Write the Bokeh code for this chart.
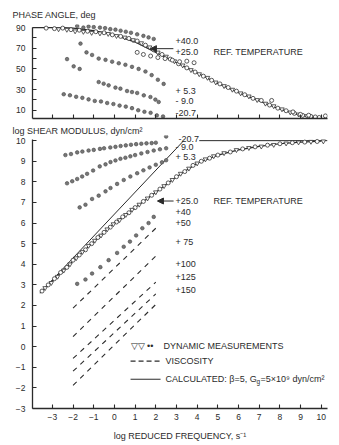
from bokeh.plotting import figure
from bokeh.layouts import column
from bokeh.models import Label, Arrow, NormalHead, FixedTicker, Range1d, Title
from bokeh.embed import file_html
from bokeh.resources import INLINE

FONT = "Liberation Sans"
INK = "#2b2b2b"
DOT = "#777777"

# ---------------- data ----------------
x_ticks = [-3, -2, -1, 0, 1, 2, 3, 4, 5, 6, 7, 8, 9, 10]
phase_ticks = [10, 20, 30, 40, 50, 60, 70, 80, 90]
phase_labels = {20: "", 40: "", 60: "", 80: ""}
mod_ticks = [-3, -2, -1, 0, 1, 2, 3, 4, 5, 6, 7, 8, 9, 10]

# top panel: phase angle (deg)
calc_phase_x = [-3.96, -2.5, -2.0, -1.0, 0.0, 1.0, 2.0, 3.0, 4.0, 5.0, 6.0, 7.0, 8.0, 9.0, 10.0]
calc_phase_y = [90, 90, 89.5, 87, 83, 76, 66, 56, 46, 36, 27, 19, 11, 5, 2]

ref_phase_circ_x = [-3.3, -2.9, -2.5, -2.1, -1.7, -1.3, -0.9, -0.5, -0.1, 0.3, 0.7, 1.1, 1.5, 1.9, 2.3,
                    2.7, 3.1, 3.5, 3.9, 4.3, 4.7, 5.1, 5.5, 5.9, 6.3, 6.7, 7.1, 7.5, 7.9, 8.3, 8.7,
                    9.1, 9.5, 9.9, 10.2]
ref_phase_circ_y = [89.5, 89, 89.5, 88, 87.5, 86.5, 86, 85, 83, 81.5, 79.5, 77, 73, 68.5, 64,
                    59.5, 55, 51, 47, 43, 39, 35.5, 32, 28.5, 25, 21.5, 19.5, 15, 12, 9.5, 7,
                    5, 4, 3, 4.5]
ref_phase_tri_x = [-2.7, -2.3, -1.9, -1.5, -1.1, -0.7, -0.3, 0.1, 0.5, 0.9, 1.3, 1.7, 2.1, 2.5, 2.9,
                   3.3, 3.7, 4.1, 4.5, 4.9, 5.3, 5.7, 6.1, 6.5, 6.9, 7.3, 7.7, 8.1, 8.5, 8.9, 9.3, 9.7]
ref_phase_tri_y = [88.5, 88, 86.5, 86, 85, 84.5, 84, 82, 80.5, 78, 75, 71, 66, 62, 57.5,
                   53.5, 49, 45, 41.5, 37, 33.5, 30, 26.5, 23.5, 20, 16.5, 14, 11, 8, 6, 4.5, 2.5]
ref_phase_extra_x = [1.1, 1.4, 1.75, 2.1, 2.45, 2.8, 3.15, 3.5, 3.85, 7.6, 8.63, 8.99, 9.39, 9.71]
ref_phase_extra_y = [66, 64, 62.5, 61, 60, 58.5, 57, 57.5, 56, 19.5, 8.4, 6, 5.2, 3.5]

p40_phase_x = [-1.8, -1.5, -1.25, -1.0, -0.7, -0.45, -0.2, 0.05, 0.3, 0.55, 0.8, 1.1, 1.4, 1.65, 1.9]
p40_phase_y = [91.5, 90, 91, 90.5, 90, 89.5, 88.5, 88, 87, 86, 85, 83.5, 82, 80.5, 79]

p53_phase_x = [-1.64, -1.35, -1.08, -0.76, -0.43, -0.11, 0.21, 0.53, 0.85, 1.17, 1.5, 1.8, 2.1, 2.38]
p53_phase_y = [74.5, 66, 63.5, 60, 58.8, 57, 55.5, 54, 52, 50, 47.5, 44, 39.5, 35.5]

m9_phase_x = [-2.29, -1.97, -1.68, -0.76, -0.52, -0.28, 0.05, 0.29, 0.61, 0.85, 1.1, 1.42, 1.74, 1.98, 2.14]
m9_phase_y = [59.5, 52.5, 50, 37.3, 35.7, 34.1, 31.9, 30.9, 28.6, 27.6, 26.7, 24.4, 22.8, 20.3, 18]

m207_phase_x = [-2.45, -2.15, -1.85, -1.55, -1.25, -0.95, -0.65, -0.35, -0.05, 0.25, 0.55, 0.85,
                1.15, 1.45, 1.75, 2.05, 2.35]
m207_phase_y = [25.5, 24.5, 23, 22, 20.5, 19, 18.5, 17, 16, 14.5, 13.5, 12, 10, 8.5, 7.5, 5, 4]

# bottom panel: log shear modulus
calc_mod_x = [-3.6, -3.0, -2.0, -1.0, 0.0, 1.0, 2.0, 3.0, 4.0, 5.0, 6.0, 7.0, 8.0, 9.0, 10.0]
calc_mod_y = [2.6, 3.2, 4.15, 5.1, 6.0, 6.75, 7.5, 8.25, 8.9, 9.3, 9.55, 9.72, 9.85, 9.93, 9.97]
asym_x = [-3.6, 3.35]
asym_y = [2.6, 10.0]
plateau_x = [4.1, 10.3]
plateau_y = [10.0, 10.0]

ref_mod_circ_x = [-3.5, -3.2, -2.9, -2.6, -2.3, -2.0, -1.7, -1.4, -1.1, -0.8, -0.5, -0.2, 0.1, 0.4,
                  0.7, 1.0, 1.4, 1.8, 2.2, 2.6, 3.0, 3.4, 3.8, 4.2, 4.6, 5.0, 5.6, 6.2, 6.8, 7.4,
                  8.0, 8.6, 9.2, 9.8]
ref_mod_circ_y = [2.7, 3.0, 3.3, 3.6, 3.85, 4.2, 4.45, 4.7, 5.0, 5.3, 5.55, 5.8, 6.05, 6.3,
                  6.5, 6.75, 7.05, 7.35, 7.65, 7.95, 8.25, 8.5, 8.8, 9.0, 9.15, 9.3, 9.45, 9.6, 9.7, 9.78,
                  9.85, 9.9, 9.93, 9.96]
ref_mod_tri_x = [-3.35, -3.05, -2.75, -2.45, -2.15, -1.85, -1.55, -1.25, -0.95, -0.65, -0.35, -0.05,
                 0.25, 0.55, 0.85, 1.2, 1.6, 2.0, 2.4, 2.8, 3.2, 3.6, 4.0, 4.4, 4.8, 5.3, 5.9, 6.5,
                 7.1, 7.7, 8.3, 8.9, 9.5, 10.1]
ref_mod_tri_y = [2.85, 3.1, 3.4, 3.7, 4.0, 4.3, 4.6, 4.9, 5.15, 5.4, 5.7, 5.95, 6.15, 6.4, 6.65,
                 6.9, 7.2, 7.5, 7.8, 8.1, 8.4, 8.65, 8.9, 9.1, 9.25, 9.4, 9.55, 9.65, 9.72, 9.8,
                 9.87, 9.92, 9.95, 9.97]

m207_mod_x = [-2.37, -2.1, -1.8, -1.55, -1.25, -1.0, -0.7, -0.5, -0.2, 0.05, 0.3, 0.55, 0.8, 1.05,
              1.3, 1.55, 1.8, 2.0, 2.5]
m207_mod_y = [9.3, 9.35, 9.43, 9.47, 9.52, 9.55, 9.6, 9.63, 9.67, 9.7, 9.74, 9.77, 9.8, 9.83,
              9.85, 9.87, 9.88, 9.9, 10.2]
m9_mod_x = [-2.29, -2.04, -1.8, -1.56, -1.32, -1.03, -0.71, -0.43, -0.19, 0.05, 0.29, 0.53, 0.77,
            1.0, 1.3, 1.6, 1.9, 2.2, 2.5]
m9_mod_y = [7.93, 8.03, 8.14, 8.26, 8.39, 8.55, 8.75, 8.85, 8.96, 9.04, 9.12, 9.17, 9.24,
            9.3, 9.38, 9.45, 9.52, 9.58, 9.63]
p53_mod_x = [-1.68, -1.4, -1.08, -0.76, -0.43, -0.19, 0.13, 0.45, 0.77, 1.1, 1.4, 1.7, 2.0, 2.3, 2.5]
p53_mod_y = [6.76, 6.89, 7.17, 7.33, 7.54, 7.7, 7.9, 8.09, 8.26, 8.42, 8.56, 8.7, 8.83, 8.95, 9.05]
p40_mod_x = [-1.8, -1.4, -1.08, -0.68, -0.28, 0.13, 0.45, 0.75, 1.05, 1.35, 1.65, 1.9]
p40_mod_y = [3.05, 3.26, 3.55, 3.86, 4.2, 4.55, 4.85, 5.1, 5.4, 5.75, 6.0, 6.3]

visc_x0 = [-2.0, -2.0, -2.0, -2.0, -2.0]
visc_x1 = [2.0, 2.0, 2.0, 2.0, 2.0]
visc_y0 = [1.87, 0.49, -0.57, -1.19, -1.88]
visc_y1 = [5.75, 4.4, 3.13, 2.56, 2.05]

# ---------------- helpers ----------------
def style(p):
    p.outline_line_color = None
    p.xgrid.visible = False
    p.ygrid.visible = False
    for ax in (p.xaxis[0], p.yaxis[0]):
        ax.axis_line_color = INK
        ax.axis_line_width = 1.3
        ax.major_tick_line_color = INK
        ax.major_tick_line_width = 1.1
        ax.major_tick_in = 4
        ax.major_tick_out = 0
        ax.minor_tick_line_color = None
        ax.major_label_text_font = FONT
        ax.major_label_text_font_size = "8.5px"
        ax.major_label_text_color = INK


def text(p, x, y, s, size="9px", align="left", x_offset=0, y_offset=0):
    p.add_layout(Label(x=x, y=y, text=s, text_font=FONT, text_font_size=size,
                       text_color=INK, text_align=align, text_baseline="middle",
                       x_offset=x_offset, y_offset=y_offset))


def dots(p, xs, ys):
    p.scatter(xs, ys, marker="circle", size=3.6, fill_color=DOT, line_color="#444444",
              line_width=0.6)


def side_title(p, s, standoff):
    p.add_layout(Title(text=s, align="left", offset=-20, standoff=standoff, text_font=FONT,
                       text_font_size="9px", text_font_style="normal", text_color=INK), "above")


# ---------------- top panel ----------------
p1 = figure(width=339, height=121, x_range=Range1d(-3.96, 10.3), y_range=Range1d(2, 93),
            output_backend="svg", toolbar_location=None,
            min_border_left=32, min_border_right=12, min_border_top=24, min_border_bottom=3)
style(p1)
side_title(p1, "PHASE ANGLE, deg", 9)
p1.xaxis.ticker = FixedTicker(ticks=x_ticks)
p1.xaxis.major_label_text_font_size = "1px"
p1.xaxis.major_label_text_alpha = 0
p1.xaxis.major_label_standoff = 0
p1.yaxis.ticker = FixedTicker(ticks=phase_ticks)
p1.yaxis.major_label_overrides = phase_labels
p1.yaxis.major_label_standoff = 7
p1.yaxis.bounds = (2, 90.5)

p1.line(calc_phase_x, calc_phase_y, line_color=INK, line_width=1.2)
p1.scatter(ref_phase_circ_x, ref_phase_circ_y, marker="circle", size=4, fill_color="white",
           line_color="#333333", line_width=0.8)
p1.scatter(ref_phase_tri_x, ref_phase_tri_y, marker="inverted_triangle", size=4.5, fill_color="white",
           line_color="#333333", line_width=0.8)
p1.scatter(ref_phase_extra_x, ref_phase_extra_y, marker="circle", size=4, fill_color="white",
           line_color="#333333", line_width=0.8)
dots(p1, p40_phase_x, p40_phase_y)
dots(p1, p53_phase_x, p53_phase_y)
dots(p1, m9_phase_x, m9_phase_y)
dots(p1, m207_phase_x, m207_phase_y)

text(p1, 2.95, 77.5, "+40.0")
text(p1, 2.95, 66.2, "+25.0")
text(p1, 4.79, 66.2, "REF. TEMPERATURE")
text(p1, 2.95, 28.4, "+ 5.3")
text(p1, 2.95, 19.4, "- 9.0")
text(p1, 2.95, 7.2, "-20.7")
p1.add_layout(Arrow(x_start=2.85, y_start=69.6, x_end=1.74, y_end=69.6, line_color=INK, line_width=1,
                    end=NormalHead(size=6, fill_color=INK, line_color=INK)))

# ---------------- bottom panel ----------------
p2 = figure(width=339, height=324, x_range=Range1d(-3, 10.25).__class__(start=-3.96, end=10.3),
            y_range=Range1d(-3, 10.25),
            output_backend="svg", toolbar_location=None,
            min_border_left=32, min_border_right=12, min_border_top=14, min_border_bottom=37)
style(p2)
side_title(p2, "log SHEAR MODULUS, dyn/cm²", 0)
p2.xaxis.ticker = FixedTicker(ticks=x_ticks)
p2.xaxis.major_label_standoff = 5
p2.xaxis.axis_label = "log REDUCED FREQUENCY, s⁻¹"
p2.xaxis.axis_label_text_font = FONT
p2.xaxis.axis_label_text_font_size = "9px"
p2.xaxis.axis_label_text_font_style = "normal"
p2.xaxis.axis_label_text_color = INK
p2.xaxis.axis_label_standoff = 8
p2.yaxis.ticker = FixedTicker(ticks=mod_ticks)
p2.yaxis.major_label_standoff = 7
p2.yaxis.bounds = (-3, 10.05)

p2.line(calc_mod_x, calc_mod_y, line_color=INK, line_width=1.2)
p2.line(asym_x, asym_y, line_color=INK, line_width=1.0)
p2.line(plateau_x, plateau_y, line_color=INK, line_width=1.0)
p2.segment(visc_x0, visc_y0, visc_x1, visc_y1, line_color=INK, line_width=1.1, line_dash="5 5")
p2.scatter(ref_mod_circ_x, ref_mod_circ_y, marker="circle", size=4, fill_color="white",
           line_color="#333333", line_width=0.8)
p2.scatter(ref_mod_tri_x, ref_mod_tri_y, marker="inverted_triangle", size=4.5, fill_color="white",
           line_color="#333333", line_width=0.8)
dots(p2, m207_mod_x, m207_mod_y)
dots(p2, m9_mod_x, m9_mod_y)
dots(p2, p53_mod_x, p53_mod_y)
dots(p2, p40_mod_x, p40_mod_y)

text(p2, 3.1, 10.06, "-20.7")
text(p2, 2.95, 9.71, "- 9.0")
text(p2, 2.95, 9.2, "+ 5.3")
text(p2, 2.95, 7.07, "+25.0")
text(p2, 4.79, 7.07, "REF. TEMPERATURE")
text(p2, 2.95, 6.53, "+40")
text(p2, 2.95, 5.99, "+50")
text(p2, 2.95, 5.06, "+ 75")
text(p2, 2.95, 4.03, "+100")
text(p2, 2.95, 3.4, "+125")
text(p2, 2.95, 2.77, "+150")
p2.add_layout(Arrow(x_start=2.86, y_start=7.07, x_end=2.08, y_end=7.07, line_color=INK, line_width=1,
                    end=NormalHead(size=6, fill_color=INK, line_color=INK)))

# legend
text(p2, 0.78, 0.05, "▽▽ ••", size="9px")
text(p2, 2.37, 0.05, "DYNAMIC MEASUREMENTS")
p2.add_layout(Arrow(x_start=0.78, y_start=-0.7, x_end=2.23, y_end=-0.7, end=None,
                    line_color=INK, line_width=1.1, line_dash="5 3"))
text(p2, 2.47, -0.7, "VISCOSITY")
p2.add_layout(Arrow(x_start=0.78, y_start=-1.58, x_end=2.23, y_end=-1.58, end=None,
                    line_color=INK, line_width=1.0))
text(p2, 2.47, -1.58, "CALCULATED: β=5, G")
text(p2, 2.47, -1.7, "g", size="6.5px", x_offset=91)
text(p2, 2.47, -1.58, "=5×10⁹ dyn/cm²", x_offset=95)

layout = column(p1, p2, spacing=0)
open("out.html", "w").write(file_html(layout, INLINE))
